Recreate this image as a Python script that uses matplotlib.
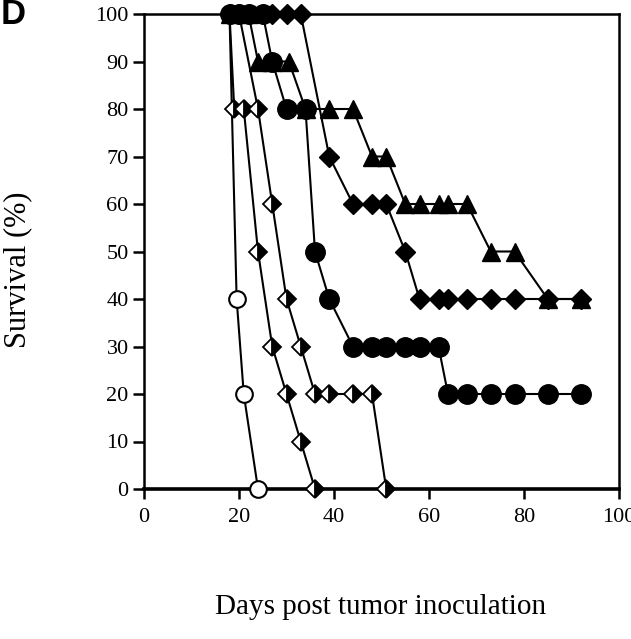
import matplotlib
matplotlib.use('Agg')
import matplotlib.pyplot as plt

plt.rcParams['font.family'] = ['Liberation Serif', 'DejaVu Serif']

# open circles
oc_days = [18, 19.5, 21, 24]
oc_surv = [100, 40, 20, 0]

# half-filled diamonds, group A
da_days = [18, 19, 21, 24, 27, 30, 33, 36]
da_surv = [100, 80, 80, 50, 30, 20, 10, 0]

# half-filled diamonds, group B
db_days = [20, 24, 27, 30, 33, 36, 39, 44, 48, 51]
db_surv = [100, 80, 60, 40, 30, 20, 20, 20, 20, 0]

# filled diamonds
fd_days = [18, 20, 22, 25, 27, 30, 33, 39, 44, 48, 51, 55, 58, 62, 64, 68, 73, 78, 85, 92]
fd_surv = [100, 100, 100, 100, 100, 100, 100, 70, 60, 60, 60, 50, 40, 40, 40, 40, 40, 40, 40, 40]

# filled triangles
tr_days = [18, 22, 24, 27, 30.5, 34, 39, 44, 48, 51, 55, 58, 62, 64, 68, 73, 78, 85, 92]
tr_surv = [100, 100, 90, 90, 90, 80, 80, 80, 70, 70, 60, 60, 60, 60, 60, 50, 50, 40, 40]

# filled circles
fc_days = [18, 20, 22, 25, 27, 30, 34, 36, 39, 44, 48, 51, 55, 58, 62, 64, 68, 73, 78, 85, 92]
fc_surv = [100, 100, 100, 100, 90, 80, 80, 50, 40, 30, 30, 30, 30, 30, 30, 20, 20, 20, 20, 20, 20]

fig = plt.figure(figsize=(6.31, 6.39), dpi=100)
ax = fig.add_axes([144/631, 1 - 489/639, 475/631, 475/639])

lw = 1.5
ax.plot(oc_days, oc_surv, '-o', color='black', lw=lw, ms=12, mfc='white', mec='black', mew=1.5, zorder=3)
ax.plot(da_days, da_surv, '-D', color='black', lw=lw, ms=9, fillstyle='right',
        mfc='black', mfcalt='white', mec='black', mew=1.3, zorder=3)
ax.plot(db_days, db_surv, '-D', color='black', lw=lw, ms=9, fillstyle='right',
        mfc='black', mfcalt='white', mec='black', mew=1.3, zorder=3)
ax.plot(fd_days, fd_surv, '-D', color='black', lw=lw, ms=10.5, mfc='black', zorder=4)
ax.plot(tr_days, tr_surv, '-^', color='black', lw=lw, ms=13, mfc='black', zorder=4)
ax.plot(fc_days, fc_surv, '-o', color='black', lw=lw, ms=14, mfc='black', zorder=5)

ax.set_xlim(0, 100)
ax.set_ylim(0, 100)
ax.set_xticks([0, 20, 40, 60, 80, 100])
ax.set_yticks(range(0, 101, 10))
ax.tick_params(direction='out', width=1.8, labelsize=16)
ax.tick_params(axis='x', length=7, pad=7)
ax.tick_params(axis='y', length=8, pad=3)
for s in ['left', 'top', 'right']:
    ax.spines[s].set_linewidth(1.8)
ax.spines['bottom'].set_linewidth(2.6)
for s in ax.spines.values():
    s.set_zorder(2)
for ln in ax.lines:
    ln.set_clip_on(False)

fig.text(381/631, 1 - 607/639, 'Days post tumor inoculation', ha='center', va='center', fontsize=21)
fig.text(18/631, 1 - 270/639, 'Survival (%)', ha='center', va='center', rotation=90, fontsize=22)
fig.text(1/631, 1 - 15/639, 'D', ha='left', va='center', fontsize=25, fontweight='bold',
         family=['Liberation Sans', 'DejaVu Sans'])

fig.savefig('out.png', dpi=100)
